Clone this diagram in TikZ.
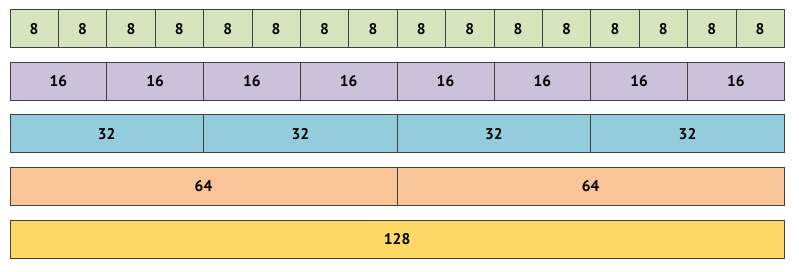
\documentclass[tikz,border=0pt]{standalone}
\usepackage{fontspec}
\setmainfont{PT Sans}
\usepackage{tikz}
\usepackage{xcolor}
\definecolor{cgreen}{HTML}{D7E4BD}
\definecolor{cpurple}{HTML}{CCC1DA}
\definecolor{cblue}{HTML}{93CDDD}
\definecolor{corange}{HTML}{FAC499}
\definecolor{cyellow}{HTML}{FFD966}
\tikzset{cell/.style={draw=black!75,line width=0.8pt,minimum height=38pt,inner sep=0pt,anchor=north west,font=\bfseries\fontsize{15.5}{17}\selectfont}}

\begin{document}
\begin{tikzpicture}[x=1pt,y=-1pt]
\useasboundingbox (0,0) rectangle (799,272);
% one row per block size
\foreach \i in {0,...,15}
  \node[cell,fill=cgreen,minimum width=48.4pt] (b8-\i) at ({9.5+48.4*\i},9.5) {8};
\foreach \i in {0,...,7}
  \node[cell,fill=cpurple,minimum width=96.8pt] (b16-\i) at ({9.5+96.8*\i},62) {16};
\foreach \i in {0,...,3}
  \node[cell,fill=cblue,minimum width=193.6pt] (b32-\i) at ({9.5+193.6*\i},114.5) {32};
\foreach \i in {0,1}
  \node[cell,fill=corange,minimum width=387.2pt] (b64-\i) at ({9.5+387.2*\i},167) {64};
\node[cell,fill=cyellow,minimum width=774.4pt] (b128) at (9.5,219.5) {128};
\end{tikzpicture}
\end{document}
